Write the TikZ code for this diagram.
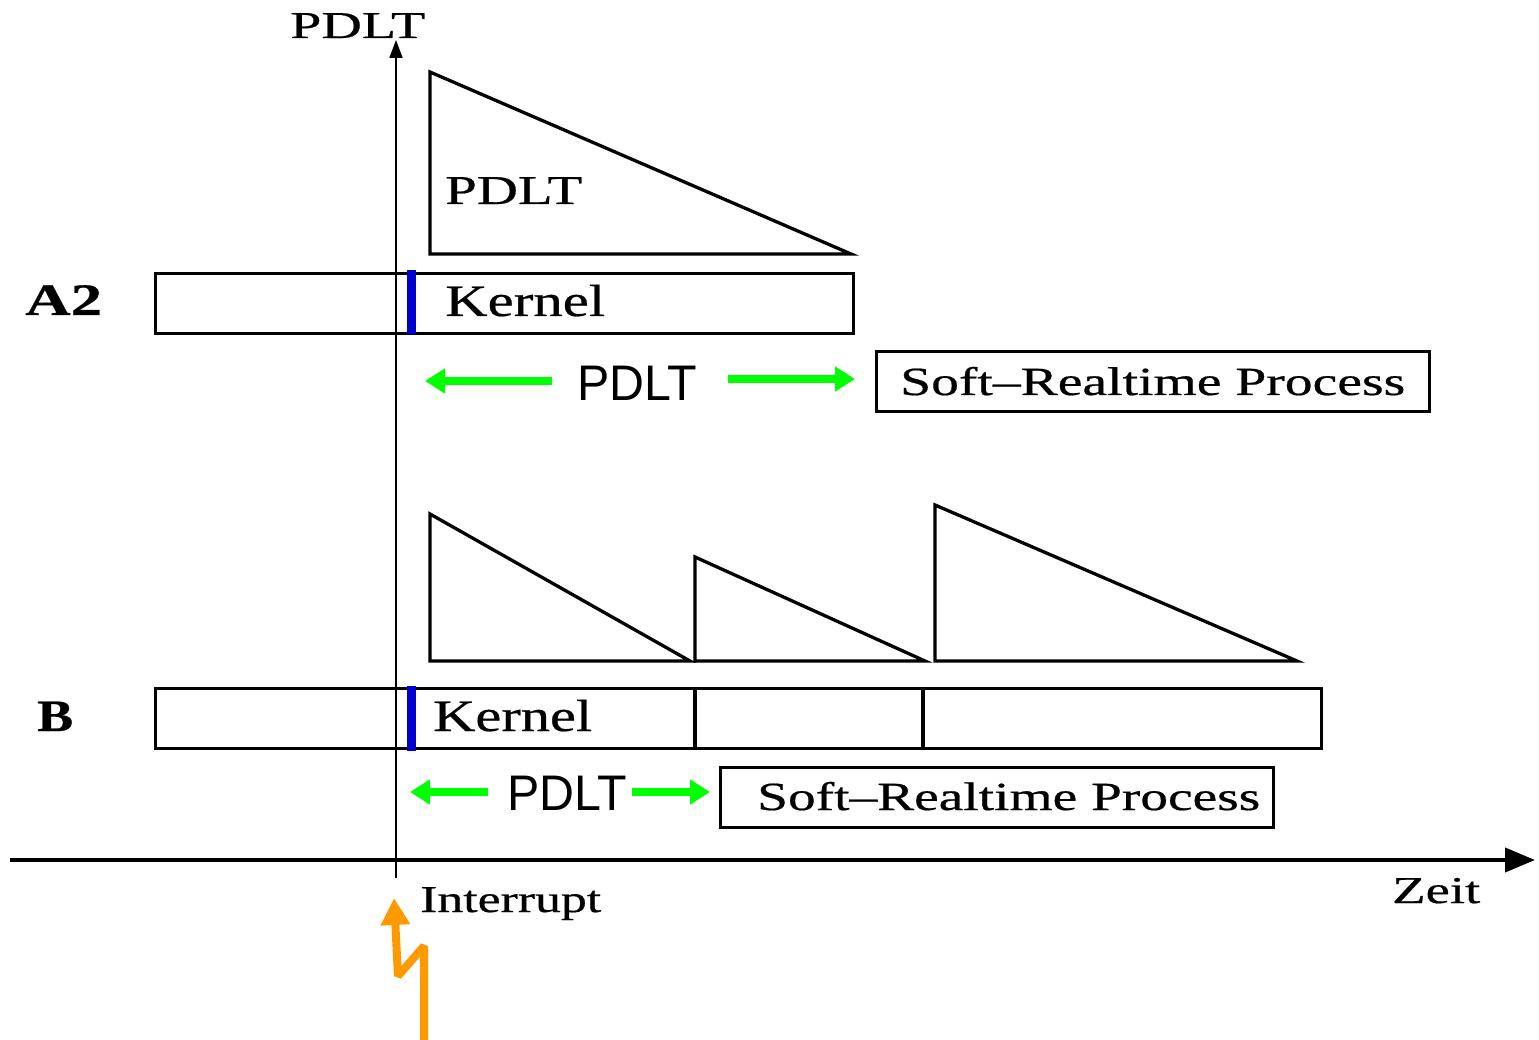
\documentclass[tikz,border=0pt]{standalone}
\usepackage{graphicx}
\usepackage{fontspec}
\setmainfont{Liberation Serif}[FakeBold=0.5]
\newfontfamily\labelsans{Liberation Sans}
\usetikzlibrary{arrows.meta}

% text set at a given size and stretched horizontally to a given width
\newcommand{\fitw}[3]{\resizebox{#1}{\height}{\fontsize{#2}{#2}\selectfont #3}}

\definecolor{markblue}{RGB}{0,0,204}
\definecolor{boltorange}{RGB}{255,153,0}
\definecolor{spangreen}{RGB}{0,255,0}

\begin{document}
\begin{tikzpicture}[x=1pt,y=-1pt,
  txt/.style={inner sep=0pt, anchor=base west},
  frame/.style={draw, line width=3.3pt, inner sep=0pt, anchor=north west},
  ramp/.style={draw, line width=3.3pt, line join=miter},
  divider/.style={line width=3.3pt},
  marker/.style={draw=markblue, line width=9pt},
  span/.style={draw=spangreen, line width=8pt, -{Triangle[length=20pt,width=24pt]}},
  bolt/.style={draw=boltorange, line width=8pt, line join=bevel, -{Triangle[length=27pt,width=28pt]}},
  timeaxis/.style={line width=4pt, -{Triangle[length=30pt,width=24pt]}},
  valueaxis/.style={line width=1.8pt, -{Triangle[length=18pt,width=13pt]}}]

\useasboundingbox (0,0) rectangle (1539,1040);

% axes
\coordinate (t0) at (10,860);
\coordinate (t1) at (1535,860);
\coordinate (v0) at (396,878);
\coordinate (v1) at (396,40);
\draw[timeaxis] (t0) -- (t1);
\draw[valueaxis] (v0) -- (v1);
\node[txt] (ylab) at (290,38) {\fitw{135pt}{38}{PDLT}};
\node[txt] (xlab) at (1392,903) {\fitw{88pt}{38}{Zeit}};
\node[txt] (irq) at (420,912) {\fitw{181pt}{38}{Interrupt}};

% interrupt bolt
\coordinate (b0) at (424,1040);
\coordinate (b1) at (424,946);
\coordinate (b2) at (398,976);
\coordinate (b3) at (394,898);
\draw[bolt] (b0) -- (b1) -- (b2) -- (b3);

% ---- case A2 ----
\draw[ramp] (430,72) -- (430,254) -- (851,254) -- cycle;
\node[txt] (pdltA) at (445,204) {\fitw{137pt}{41}{PDLT}};

\node[txt] (labA) at (25,315) {\fitw{77pt}{45}{\bfseries A2}};
\node[frame, minimum width=698pt, minimum height=60pt] (boxA) at (154,272) {};
\draw[marker] (411,270) -- (411,334);
\node[txt] (kernA) at (445,316) {\fitw{160pt}{45}{Kernel}};

\node[txt] (spanA) at (577,401) {\labelsans\fitw{120pt}{50}{PDLT}};
\coordinate (spanAl) at (425,381);
\coordinate (spanAr) at (855,379);
\draw[span] (spanA.west |- spanAl) ++(-25pt,0) -- (spanAl);
\draw[span] (spanA.east |- spanAr) ++(31pt,0) -- (spanAr);

\node[frame, minimum width=553pt, minimum height=60pt] (softA) at (875,350) {};
\node[txt] (softAtxt) at (900,395) {\fitw{505pt}{40}{Soft--Realtime Process}};

% ---- case B ----
\draw[ramp] (430,514) -- (430,661) -- (690,661) -- cycle;
\draw[ramp] (695,557) -- (695,661) -- (925,661) -- cycle;
\draw[ramp] (935,505) -- (935,661) -- (1297,661) -- cycle;

\node[txt] (labB) at (37,731) {\fitw{36pt}{45}{\bfseries B}};
\node[frame, minimum width=1166pt, minimum height=60pt] (boxB) at (154,687) {};
\draw[divider] (695,687) -- (695,747);
\draw[divider] (923,687) -- (923,747);
\draw[marker] (411,686) -- (411,751);
\node[txt] (kernB) at (433,731) {\fitw{159pt}{45}{Kernel}};

\node[txt] (spanB) at (507,810) {\labelsans\fitw{120pt}{50}{PDLT}};
\coordinate (spanBl) at (410,792);
\coordinate (spanBr) at (710,792);
\draw[span] (spanB.west |- spanBl) ++(-19pt,0) -- (spanBl);
\draw[span] (spanB.east |- spanBr) ++(5pt,0) -- (spanBr);

\node[frame, minimum width=553pt, minimum height=60pt] (softB) at (719,766) {};
\node[txt] (softBtxt) at (757,810) {\fitw{503pt}{40}{Soft--Realtime Process}};

\end{tikzpicture}
\end{document}
